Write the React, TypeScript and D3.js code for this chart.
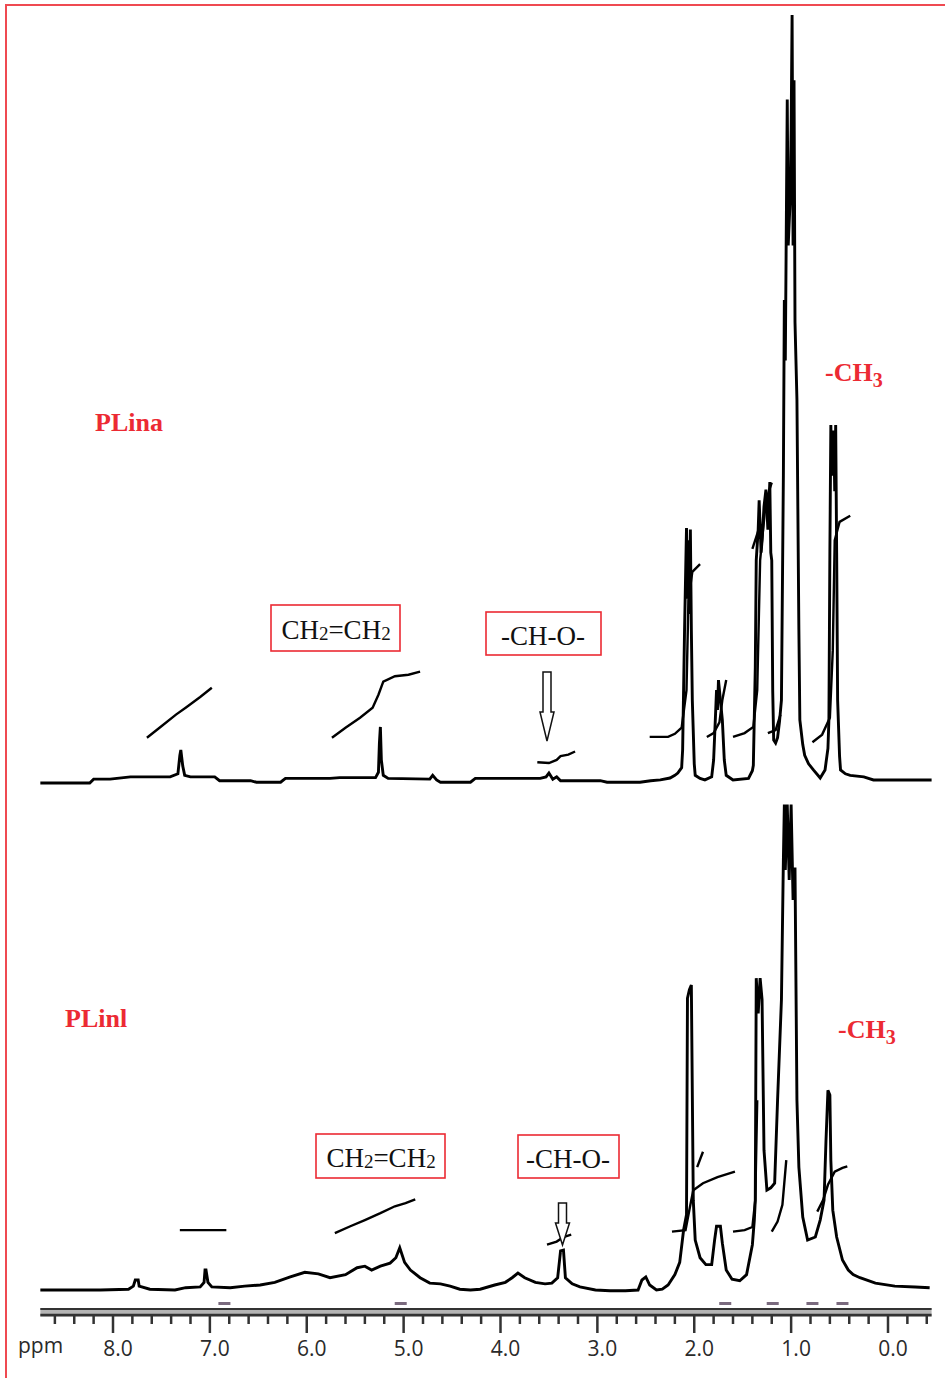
import React from 'react';
import * as d3 from 'd3';

type Pt = [number, number]; // [ppm, relative intensity]

// upper trace (PLina)
const plinaTrace: Pt[] = [
  [8.75, 0], [8.24, 0], [8.2, 0.5], [8.03, 0.5], [7.82, 0.8], [7.41, 0.8], [7.33, 1.2], [7.31, 3.6], [7.3, 4.3],
  [7.28, 2.2], [7.26, 1.0], [7.2, 0.8], [6.95, 0.8], [6.9, 0.3], [6.58, 0.3], [6.52, 0.1], [6.27, 0.1],
  [6.22, 0.6], [6.07, 0.6], [5.76, 0.6], [5.66, 0.7], [5.29, 0.7], [5.26, 1.4], [5.25, 5.2], [5.24, 7.3],
  [5.23, 3.0], [5.21, 1.0], [5.16, 0.6], [4.73, 0.5], [4.7, 1.0], [4.66, 0.4], [4.62, 0.1], [4.31, 0.1],
  [4.26, 0.6], [3.59, 0.6], [3.53, 0.8], [3.5, 1.3], [3.46, 0.5], [3.42, 0.8], [3.38, 0.3], [2.97, 0.3],
  [2.9, 0.1], [2.56, 0.1], [2.45, 0.3], [2.35, 0.4], [2.25, 0.65], [2.2, 1.0], [2.17, 1.3], [2.13, 2.0],
  [2.12, 4.3], [2.1, 20], [2.08, 33.2], [2.07, 24], [2.06, 31.6], [2.05, 22], [2.04, 33], [2.03, 20],
  [2.02, 10.8], [2.0, 2.5], [1.99, 1.0], [1.94, 0.6], [1.89, 0.4], [1.82, 0.8], [1.8, 3.0], [1.78, 9.0],
  [1.77, 12.1], [1.76, 9.5], [1.75, 13.4], [1.73, 10.8], [1.71, 8.2], [1.69, 3.0], [1.67, 1.0], [1.6, 0.4],
  [1.44, 0.6], [1.4, 1.6], [1.39, 2.3], [1.37, 15], [1.36, 29], [1.34, 33], [1.33, 36.8], [1.31, 30],
  [1.3, 31.6], [1.28, 36], [1.26, 38.2], [1.24, 33], [1.22, 39.2], [1.21, 30], [1.2, 29], [1.19, 12],
  [1.18, 5.6], [1.16, 5.2], [1.14, 5.9], [1.12, 8], [1.1, 10.8], [1.08, 40], [1.07, 62.9], [1.06, 55],
  [1.04, 89], [1.03, 70], [1.01, 75.9], [1.0, 85], [0.99, 100], [0.98, 70], [0.97, 91.5], [0.96, 60],
  [0.94, 49.9], [0.92, 20], [0.91, 8.2], [0.88, 5.0], [0.86, 3.6], [0.82, 2.5], [0.77, 1.7], [0.7, 0.65],
  [0.65, 1.7], [0.62, 4.5], [0.61, 8.2], [0.6, 30], [0.59, 46.6], [0.58, 40], [0.56, 45.9], [0.55, 38],
  [0.54, 46.6], [0.53, 30], [0.52, 10.8], [0.5, 3.5], [0.49, 1.7], [0.44, 1.2], [0.39, 1.0], [0.25, 0.8],
  [0.15, 0.4], [-0.45, 0.4],
];

// lower trace (PLinl)
const plinlTrace: Pt[] = [
  [8.75, 0], [8.13, 0], [7.84, 0.1], [7.79, 0.5], [7.77, 1.3], [7.76, 1.3], [7.74, 1.3], [7.73, 0.5],
  [7.62, 0.1], [7.36, 0], [7.25, 0.3], [7.1, 0.4], [7.06, 1.0], [7.05, 2.6], [7.04, 2.6], [7.02, 1.0],
  [6.98, 0.4], [6.79, 0.3], [6.64, 0.5], [6.48, 0.65], [6.33, 1.0], [6.17, 1.7], [6.02, 2.3], [5.88, 2.1],
  [5.76, 1.6], [5.6, 2.0], [5.48, 2.9], [5.4, 3.1], [5.33, 2.6], [5.24, 3.1], [5.14, 3.5], [5.08, 4.2],
  [5.04, 5.5], [4.99, 3.6], [4.93, 2.6], [4.83, 1.6], [4.73, 0.9], [4.62, 0.8], [4.52, 0.5], [4.42, 0.1],
  [4.31, 0], [4.21, 0.1], [4.06, 0.65], [3.95, 1.0], [3.88, 1.6], [3.82, 2.2], [3.75, 1.6], [3.64, 1.0],
  [3.54, 0.8], [3.47, 0.9], [3.41, 1.6], [3.38, 5.1], [3.35, 5.2], [3.33, 1.6], [3.26, 0.8], [3.18, 0.4],
  [3.02, 0], [2.87, -0.1], [2.71, -0.1], [2.58, 0], [2.54, 1.3], [2.5, 1.7], [2.46, 0.65], [2.39, 0],
  [2.33, 0.1], [2.27, 0.65], [2.2, 2.0], [2.15, 3.6], [2.11, 7.8], [2.08, 9.8], [2.07, 38], [2.05, 39.1],
  [2.03, 39.7], [2.01, 11.7], [1.99, 6.5], [1.94, 4.2], [1.88, 3.3], [1.82, 3.3], [1.79, 6.5], [1.77, 8.3],
  [1.73, 8.3], [1.71, 6.1], [1.67, 2.6], [1.61, 1.4], [1.53, 1.2], [1.46, 2.0], [1.4, 5.9], [1.38, 9.1],
  [1.37, 11.7], [1.36, 40.6], [1.34, 36], [1.32, 40.6], [1.3, 37.8], [1.28, 18.2], [1.25, 13.0], [1.21, 13.3],
  [1.17, 13.9], [1.14, 24.7], [1.1, 37.8], [1.08, 56.0], [1.07, 63.2], [1.06, 54.7], [1.04, 63.2], [1.02, 53.4],
  [1.0, 63.2], [0.98, 50.8], [0.96, 55], [0.94, 24.7], [0.92, 16.0], [0.88, 9.5], [0.83, 6.5], [0.75, 6.9],
  [0.7, 9.1], [0.66, 11.7], [0.64, 19.5], [0.62, 26.0], [0.6, 25.4], [0.59, 16.9], [0.57, 10.4], [0.53, 6.9],
  [0.47, 3.9], [0.41, 2.6], [0.36, 2.0], [0.29, 1.6], [0.13, 0.9], [-0.07, 0.5], [-0.28, 0.4], [-0.43, 0.3],
];

// integral curves
const plinaIntegrals: Pt[][] = [
  [[7.65, 5.9], [7.51, 7.3], [7.35, 8.9], [7.25, 9.8], [7.1, 11.2], [6.98, 12.4]],
  [[5.74, 5.9], [5.6, 7.2], [5.45, 8.5], [5.32, 9.8], [5.26, 11.5], [5.21, 13.2], [5.09, 13.9], [4.95, 14.1], [4.83, 14.5]],
  [[3.62, 2.7], [3.5, 2.6], [3.42, 3.0], [3.38, 3.5], [3.3, 3.7], [3.23, 4.1]],
  [[2.46, 6.0], [2.27, 6.0], [2.2, 6.4], [2.13, 7.2], [2.08, 12.1], [2.06, 23.8], [2.02, 27.5], [1.94, 28.5]],
  [[1.87, 6.0], [1.8, 6.5], [1.74, 7.9], [1.71, 10.8], [1.67, 13.4]],
  [[1.6, 6.0], [1.48, 6.5], [1.39, 7.3], [1.35, 12.1], [1.32, 29], [1.26, 36.8], [1.2, 39.1]],
  [[1.4, 30.5], [1.33, 33.2]],
  [[1.24, 6.5], [1.16, 6.9], [1.11, 8.9]],
  [[0.78, 5.3], [0.68, 6.3], [0.6, 8.5], [0.57, 17.3], [0.55, 31.6], [0.5, 34], [0.39, 34.8]],
];

const plinlIntegrals: Pt[][] = [
  [[7.31, 7.8], [6.83, 7.8]],
  [[5.71, 7.4], [5.55, 8.3], [5.4, 9.1], [5.24, 10.0], [5.09, 10.9], [4.98, 11.3], [4.88, 11.8]],
  [[3.52, 5.9], [3.42, 6.3], [3.35, 6.9], [3.27, 7.2]],
  [[2.23, 7.6], [2.09, 7.8], [2.04, 11.1], [2.01, 13.0], [1.91, 13.9], [1.76, 14.7], [1.58, 15.4]],
  [[1.97, 16.0], [1.91, 18.0]],
  [[1.6, 7.6], [1.48, 7.8], [1.4, 8.2], [1.37, 11.7], [1.35, 24.7]],
  [[1.2, 7.6], [1.14, 8.9], [1.09, 11.1], [1.05, 16.9]],
  [[0.73, 10.2], [0.67, 11.7], [0.62, 13.7], [0.55, 15.4], [0.47, 15.9], [0.42, 16.1]],
];

const majorTicks = [8, 7, 6, 5, 4, 3, 2, 1, 0];
const majorLabels = ['8.0', '7.0', '6.0', '5.0', '4.0', '3.0', '2.0', '1.0', '0.0'];
const regionMarks = [6.85, 5.03, 1.68, 1.19, 0.78, 0.47];
const sampleNames = ['PLina', 'PLinl'];
const arrowPpm = [3.52, 3.36];

const RED = '#ec2a33';
const SERIF = '"Times New Roman", "Liberation Serif", "DejaVu Serif", serif';

const Arrow = ({ cx, top, neck, tip }: { cx: number; top: number; neck: number; tip: number }) => (
  <path
    d={`M${cx - 4},${top} L${cx + 4},${top} L${cx + 4},${neck} L${cx + 7},${neck} L${cx},${tip} L${cx - 7},${neck} L${cx - 4},${neck} Z`}
    fill="#fff" stroke="#111" strokeWidth={1.5}
  />
);

const Ch2Label = ({ cx, y }: { cx: number; y: number }) => (
  <text x={cx} y={y} textAnchor="middle" fontFamily={SERIF} fontSize={27} fill="#111">
    CH<tspan fontSize={19} dy={1}>2</tspan><tspan dy={-1}>=CH</tspan><tspan fontSize={19} dy={1}>2</tspan>
  </text>
);

const Ch3Label = ({ x, y }: { x: number; y: number }) => (
  <text x={x} y={y} fontFamily={SERIF} fontSize={26} fontWeight="bold" fill={RED}>
    -CH<tspan fontSize={20} dy={6}>3</tspan>
  </text>
);

export default function App() {
  const x = d3.scaleLinear().domain([8, 0]).range([113, 888]);
  const yTop = d3.scaleLinear().domain([0, 100]).range([783, 15]);
  const yBot = d3.scaleLinear().domain([0, 100]).range([1290, 522]);

  const lineTop = d3.line<Pt>().x(d => x(d[0])).y(d => yTop(d[1]));
  const lineBot = d3.line<Pt>().x(d => x(d[0])).y(d => yBot(d[1]));

  const minorTicks = d3.range(-4, 87, 2).map(v => v / 10).filter(v => Math.abs(v - Math.round(v)) > 0.01);

  const axisY = 1308;

  return (
    <svg width={945} height={1378} style={{ position: 'absolute', left: 0, top: 0, display: 'block', background: '#fff' }}>
      <rect x={0} y={0} width={945} height={1378} fill="#fff" />
      {/* frame */}
      <path d="M6,1378 L6,5 L945,5" fill="none" stroke={RED} strokeWidth={2} opacity={0.85} />

      {/* spectra */}
      <path d={lineTop(plinaTrace) || ''} fill="none" stroke="#000" strokeWidth={2.9} strokeLinejoin="miter" />
      <path d={lineBot(plinlTrace) || ''} fill="none" stroke="#000" strokeWidth={2.9} strokeLinejoin="miter" />
      {plinaIntegrals.map((seg, i) => (
        <path key={'it' + i} d={lineTop(seg) || ''} fill="none" stroke="#000" strokeWidth={2.4} />
      ))}
      {plinlIntegrals.map((seg, i) => (
        <path key={'ib' + i} d={lineBot(seg) || ''} fill="none" stroke="#000" strokeWidth={2.4} />
      ))}

      {/* integration region markers */}
      {regionMarks.map((p, i) => (
        <rect key={'rm' + i} x={x(p) - 6} y={axisY - 6} width={12} height={3} fill="#7a6a7e" />
      ))}

      {/* ppm axis */}
      <rect x={x(8.75)} y={axisY} width={x(-0.45) - x(8.75)} height={9} fill="#b5b5b5" />
      <line x1={x(8.75)} x2={x(-0.45)} y1={axisY + 1} y2={axisY + 1} stroke="#333" strokeWidth={2} />
      <line x1={x(8.75)} x2={x(-0.45)} y1={axisY + 7} y2={axisY + 7} stroke="#333" strokeWidth={2.5} />
      {minorTicks.map(v => (
        <line key={'mt' + v} x1={x(v)} x2={x(v)} y1={axisY + 8} y2={axisY + 16} stroke="#333" strokeWidth={2.5} />
      ))}
      {majorTicks.map(v => (
        <line key={'Mt' + v} x1={x(v)} x2={x(v)} y1={axisY + 8} y2={axisY + 25} stroke="#333" strokeWidth={2.5} />
      ))}
      {majorTicks.map((v, i) => (
        <text key={'ml' + v} x={x(v) + 5} y={1356} textAnchor="middle" fontFamily='"Open Sans", "Noto Sans", sans-serif' fontSize={21} fill="#2a2a2a">
          {majorLabels[i]}
        </text>
      ))}
      <text x={18} y={1353} fontFamily='"Open Sans", "Noto Sans", sans-serif' fontSize={21} fill="#2a2a2a">ppm</text>

      {/* sample names */}
      <text x={95} y={431} fontFamily={SERIF} fontSize={26} fontWeight="bold" fill={RED}>{sampleNames[0]}</text>
      <text x={65} y={1027} fontFamily={SERIF} fontSize={26} fontWeight="bold" fill={RED}>{sampleNames[1]}</text>
      <Ch3Label x={825} y={381} />
      <Ch3Label x={838} y={1038} />

      {/* boxed group labels, upper */}
      <rect x={271} y={605} width={129} height={46} fill="#fff" stroke={RED} strokeWidth={1.6} />
      <Ch2Label cx={336} y={639} />
      <rect x={486} y={612} width={115} height={43} fill="#fff" stroke={RED} strokeWidth={1.6} />
      <text x={543} y={645} textAnchor="middle" fontFamily={SERIF} fontSize={27} fill="#111">-CH-O-</text>
      <Arrow cx={x(arrowPpm[0])} top={672} neck={712} tip={741} />

      {/* boxed group labels, lower */}
      <rect x={316} y={1134} width={129} height={44} fill="#fff" stroke={RED} strokeWidth={1.6} />
      <Ch2Label cx={381} y={1167} />
      <rect x={518} y={1135} width={101} height={43} fill="#fff" stroke={RED} strokeWidth={1.6} />
      <text x={568} y={1168} textAnchor="middle" fontFamily={SERIF} fontSize={27} fill="#111">-CH-O-</text>
      <Arrow cx={x(arrowPpm[1])} top={1203} neck={1223} tip={1245} />
    </svg>
  );
}
